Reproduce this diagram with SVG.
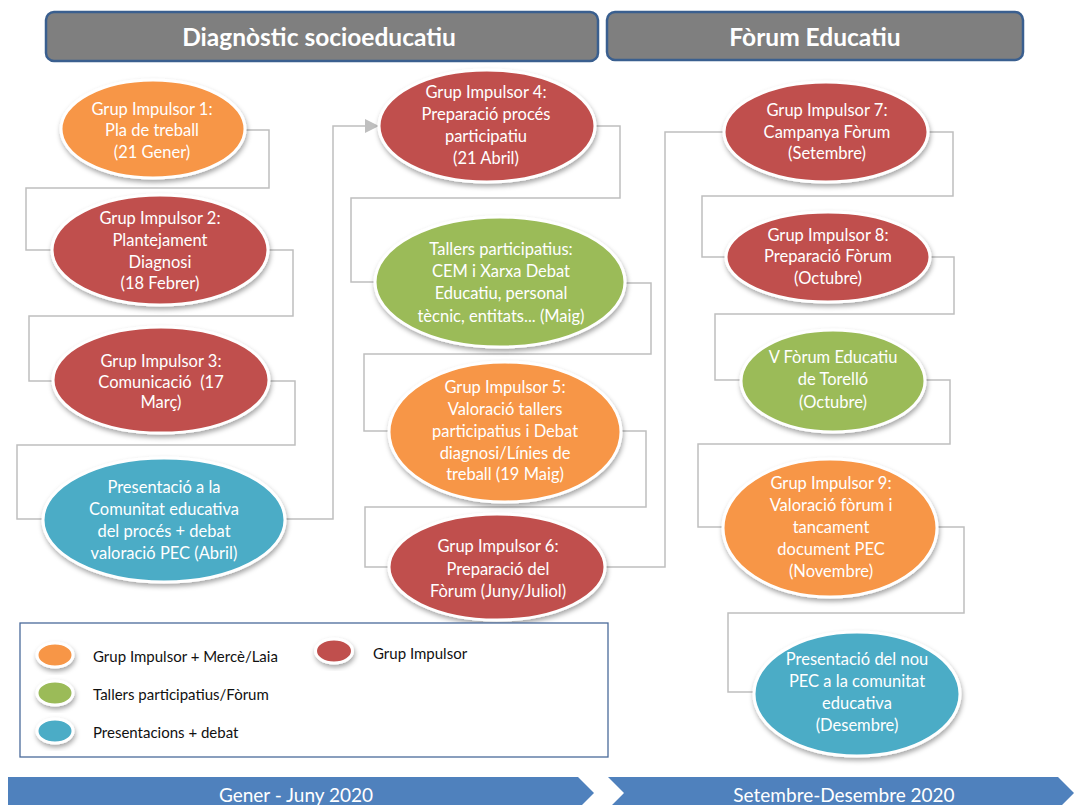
<svg xmlns="http://www.w3.org/2000/svg" width="1075" height="805" viewBox="0 0 1075 805">
<defs>
<filter id="sh" x="-20%" y="-20%" width="140%" height="150%">
<feDropShadow dx="1" dy="3" stdDeviation="2.5" flood-color="#000" flood-opacity="0.35"/>
</filter>
<marker id="arr" markerUnits="userSpaceOnUse" markerWidth="14" markerHeight="14" viewBox="0 0 14 14" refX="13" refY="7" orient="auto">
<path d="M0,0 L14,7 L0,14 z" fill="#BFBFBF"/>
</marker>
<style>
.hd rect{fill:#7F7F7F;stroke:#3A5F8F;stroke-width:2.5}
.hd text{font-family:Lato,"Liberation Sans",sans-serif;font-weight:bold;font-size:24.5px;fill:#fff;text-anchor:middle}
.n ellipse{stroke:#fff;stroke-width:3;filter:url(#sh)}
.o{fill:#F79646}.r{fill:#C0504D}.g{fill:#9BBB59}.t{fill:#4BACC6}
.n text{font-family:Lato,"Liberation Sans",sans-serif;font-size:16.5px;fill:#fff;text-anchor:middle}
.c path{fill:none;stroke:#BFBFBF;stroke-width:1.5}
.lg text{font-family:Lato,"Liberation Sans",sans-serif;font-size:15px;fill:#111}
.lg ellipse{stroke:#fff;stroke-width:3;filter:url(#sh)}
.bar polygon{fill:#4F81BD}
.bar text{font-family:Lato,"Liberation Sans",sans-serif;font-size:19px;fill:#fff;text-anchor:middle}
</style>
</defs>
<rect width="1075" height="805" fill="#fff"/>

<g id="header1" class="hd"><rect x="46" y="12" width="552" height="49" rx="8"/><text x="319" y="46">Diagnòstic socioeducatiu</text></g>
<g id="header2" class="hd"><rect x="607" y="12" width="416" height="48" rx="8"/><text x="815" y="46">Fòrum Educatiu</text></g>

<g id="connectors" class="c">
<path d="M245,130 H269 V188 H26 V250 H52"/>
<path d="M268,250 H293 V316 H29 V381 H53"/>
<path d="M270,381 H295 V445 H17 V519 H43"/>
<path d="M285,519 H333 V126 H378" marker-end="url(#arr)"/>
<path d="M595,126 H620 V198 H351 V282 H375"/>
<path d="M625,283 H651 V354 H364 V431 H389"/>
<path d="M621,431 H646 V507 H365 V567 H390"/>
<path d="M605,567 H665 V132 H725"/>
<path d="M928,132 H953 V196 H702 V257 H727"/>
<path d="M930,257 H954 V314 H715 V380 H740"/>
<path d="M925,380 H950 V444 H698 V527 H723"/>
<path d="M938,527 H964 V613 H728 V692 H753"/>
</g>

<g id="gi1" class="n"><ellipse class="o" cx="153" cy="129" rx="92" ry="49"/>
<text x="152" y="115">Grup Impulsor 1:</text><text x="152" y="136">Pla de treball</text><text x="152" y="158">(21 Gener)</text></g>

<g id="gi2" class="n"><ellipse class="r" cx="160" cy="250" rx="108" ry="55"/>
<text x="160" y="224">Grup Impulsor 2:</text><text x="160" y="246">Plantejament</text><text x="160" y="268">Diagnosi</text><text x="160" y="289">(18 Febrer)</text></g>

<g id="gi3" class="n"><ellipse class="r" cx="161" cy="380" rx="108" ry="53"/>
<text x="161" y="367">Grup Impulsor 3:</text><text x="161" y="388" xml:space="preserve">Comunicació  (17</text><text x="161" y="408">Març)</text></g>

<g id="pres1" class="n"><ellipse class="t" cx="164" cy="520" rx="121" ry="62"/>
<text x="164" y="493">Presentació a la</text><text x="164" y="515">Comunitat educativa</text><text x="164" y="537">del procés + debat</text><text x="164" y="559">valoració PEC (Abril)</text></g>

<g id="gi4" class="n"><ellipse class="r" cx="487" cy="126" rx="108" ry="56"/>
<text x="486" y="98">Grup Impulsor 4:</text><text x="486" y="120">Preparació procés</text><text x="486" y="142">participatiu</text><text x="486" y="164">(21 Abril)</text></g>

<g id="tallers" class="n"><ellipse class="g" cx="500" cy="282" rx="125" ry="65"/>
<text x="501" y="255">Tallers participatius:</text><text x="501" y="277">CEM i Xarxa Debat</text><text x="501" y="299">Educatiu, personal</text><text x="501" y="322">tècnic, entitats... (Maig)</text></g>

<g id="gi5" class="n"><ellipse class="o" cx="505" cy="432" rx="116" ry="70"/>
<text x="505" y="393">Grup Impulsor 5:</text><text x="505" y="415">Valoració tallers</text><text x="505" y="437">participatius i Debat</text><text x="505" y="459">diagnosi/Línies de</text><text x="505" y="480">treball (19 Maig)</text></g>

<g id="gi6" class="n"><ellipse class="r" cx="497" cy="567" rx="108" ry="53"/>
<text x="498" y="552">Grup Impulsor 6:</text><text x="498" y="575">Preparació del</text><text x="498" y="597">Fòrum (Juny/Juliol)</text></g>

<g id="gi7" class="n"><ellipse class="r" cx="826" cy="132" rx="102" ry="50"/>
<text x="827" y="116">Grup Impulsor 7:</text><text x="827" y="138">Campanya Fòrum</text><text x="827" y="159">(Setembre)</text></g>

<g id="gi8" class="n"><ellipse class="r" cx="828" cy="257" rx="102" ry="45"/>
<text x="828" y="241">Grup Impulsor 8:</text><text x="828" y="262">Preparació Fòrum</text><text x="828" y="284">(Octubre)</text></g>

<g id="forum" class="n"><ellipse class="g" cx="833" cy="381" rx="92" ry="51"/>
<text x="833" y="363">V Fòrum Educatiu</text><text x="833" y="385">de Torelló</text><text x="833" y="408">(Octubre)</text></g>

<g id="gi9" class="n"><ellipse class="o" cx="830" cy="528" rx="107" ry="69"/>
<text x="831" y="489">Grup Impulsor 9:</text><text x="831" y="511">Valoració fòrum i</text><text x="831" y="533">tancament</text><text x="831" y="555">document PEC</text><text x="831" y="577">(Novembre)</text></g>

<g id="pres2" class="n"><ellipse class="t" cx="857" cy="694" rx="103" ry="62"/>
<text x="857" y="665">Presentació del nou</text><text x="857" y="687">PEC a la comunitat</text><text x="857" y="709">educativa</text><text x="857" y="731">(Desembre)</text></g>

<g id="legend" class="lg">
<rect x="20" y="623" width="588" height="134" fill="#fff" stroke="#4A6A9A" stroke-width="1.3"/>
<ellipse class="o" cx="55" cy="655" rx="18" ry="12"/>
<ellipse class="g" cx="55" cy="693" rx="18" ry="12"/>
<ellipse class="t" cx="55" cy="731" rx="18" ry="12"/>
<ellipse class="r" cx="334" cy="651" rx="18.5" ry="12"/>
<text x="93" y="662">Grup Impulsor + Mercè/Laia</text>
<text x="93" y="700">Tallers participatius/Fòrum</text>
<text x="93" y="738">Presentacions + debat</text>
<text x="373" y="659">Grup Impulsor</text>
</g>

<g id="timeline" class="bar">
<polygon points="8,777 578,777 594,793 578,809 8,809"/>
<polygon points="608,777 1058,777 1074,793 1058,809 608,809 624,793"/>
<text x="296" y="802">Gener - Juny 2020</text>
<text x="844" y="802">Setembre-Desembre 2020</text>
</g>
</svg>
